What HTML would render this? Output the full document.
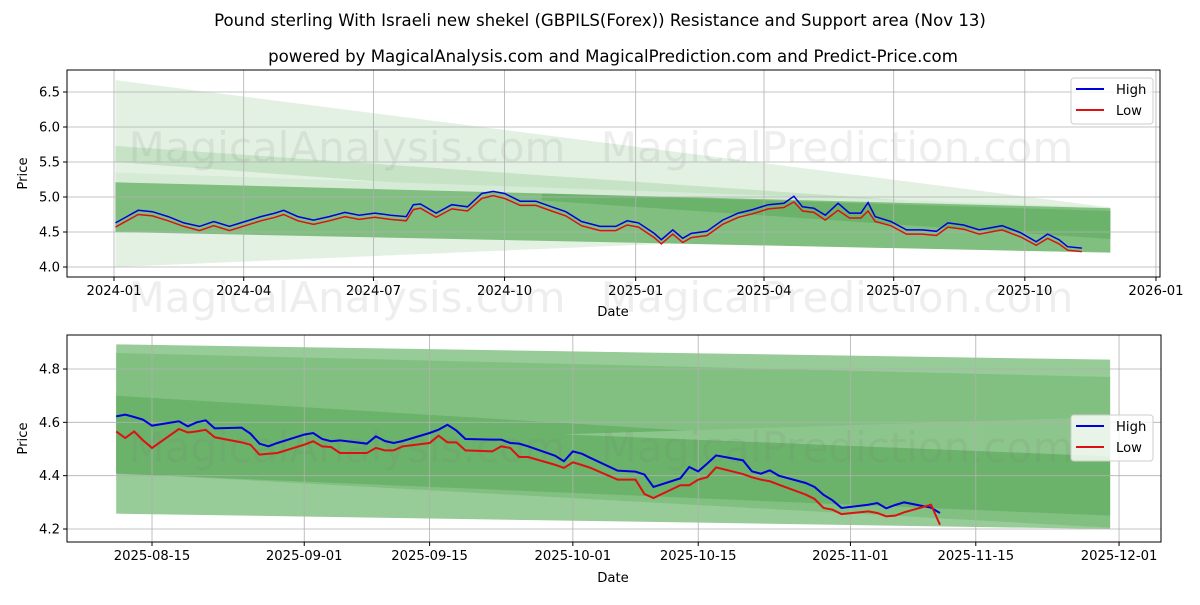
<!DOCTYPE html>
<html><head><meta charset="utf-8"><style>
body{margin:0;background:#fff;}
svg text{font-family:"DejaVu Sans","Liberation Sans",sans-serif;}
</style></head><body>
<svg id="c" width="1200" height="600" xmlns="http://www.w3.org/2000/svg">
<rect width="1200" height="600" fill="#fff"/>
<text x="600" y="26" text-anchor="middle" font-size="16.6">Pound sterling With Israeli new shekel (GBPILS(Forex)) Resistance and Support area (Nov 13)</text>
<text x="613" y="62" text-anchor="middle" font-size="16.6">powered by MagicalAnalysis.com and MagicalPrediction.com and Predict-Price.com</text>
<g id="top"></g>
<g id="bot"></g>
</svg>
<script>
// ---- top chart data ----
const topDays=[1,9,17,27,38,49,60,70,81,92,103,113,119,129,140,151,162,172,183,194,205,210,215,226,237,248,258,266,274,285,296,307,317,328,341,352,360,368,379,384,392,399,405,416,427,438,448,459,470,477,483,491,499,508,516,524,529,534,545,556,567,577,585,596,607,623,636,647,655,663,669,679];
const topHigh=[4.63,4.72,4.81,4.79,4.72,4.63,4.58,4.65,4.58,4.65,4.72,4.77,4.81,4.72,4.67,4.72,4.78,4.74,4.77,4.74,4.72,4.89,4.90,4.77,4.89,4.86,5.05,5.08,5.05,4.94,4.94,4.86,4.79,4.65,4.58,4.58,4.66,4.63,4.48,4.39,4.53,4.41,4.48,4.51,4.67,4.77,4.82,4.89,4.91,5.01,4.86,4.84,4.74,4.91,4.77,4.77,4.92,4.72,4.65,4.53,4.53,4.51,4.63,4.60,4.53,4.59,4.49,4.36,4.47,4.39,4.29,4.27];
const topLow=[4.57,4.66,4.75,4.73,4.66,4.58,4.52,4.59,4.52,4.59,4.66,4.71,4.75,4.66,4.61,4.66,4.72,4.68,4.71,4.68,4.66,4.82,4.84,4.71,4.83,4.80,4.98,5.02,4.98,4.88,4.88,4.80,4.73,4.59,4.52,4.52,4.60,4.57,4.42,4.33,4.47,4.35,4.42,4.45,4.61,4.71,4.76,4.83,4.85,4.93,4.80,4.78,4.67,4.81,4.70,4.70,4.80,4.65,4.59,4.47,4.47,4.45,4.57,4.54,4.47,4.53,4.43,4.31,4.41,4.33,4.24,4.22];
const topYTicks=[4.0,4.5,5.0,5.5,6.0,6.5];
const topYTickLabels=["4.0","4.5","5.0","5.5","6.0","6.5"];
const topXTickDays=[0,91,182,274,366,456,547,639,731];
const topXTickLabels=["2024-01","2024-04","2024-07","2024-10","2025-01","2025-04","2025-07","2025-10","2026-01"];
const topBandStartDay=1, topBandEndDay=699;
const topBandVeryLight=[6.67,4.85,4.00,4.60];
const topBandLight1=[5.73,4.75,5.50,4.45];
const topBandLight2=[5.35,4.85,5.21,4.80];
const topBandMain=[5.21,4.84,4.50,4.205];
const topBandDark=[5.05,4.80,4.95,4.40];

// ---- bottom chart data ----
const botStart="2025-08-11";
const botHigh=[4.6225,4.629,4.62,4.61,4.5875,4.604,4.585,4.60,4.6075,4.5775,4.58,4.5575,4.52,4.51,4.5225,4.554,4.56,4.5375,4.529,4.5325,4.52,4.5475,4.53,4.5225,4.53,4.56,4.5725,4.591,4.569,4.5375,4.535,4.535,4.5225,4.52,4.51,4.475,4.454,4.491,4.4825,4.466,4.419,4.417,4.415,4.404,4.3575,4.39,4.4325,4.416,4.445,4.476,4.4575,4.416,4.4075,4.42,4.40,4.3725,4.3575,4.328,4.3075,4.279,4.291,4.2975,4.2775,4.29,4.30,4.28,4.26];
const botLow=[4.566,4.541,4.566,4.5325,4.504,4.575,4.562,4.566,4.572,4.544,4.525,4.516,4.479,4.482,4.485,4.516,4.529,4.51,4.5075,4.485,4.485,4.504,4.495,4.495,4.51,4.5225,4.55,4.525,4.525,4.495,4.491,4.51,4.504,4.47,4.47,4.441,4.429,4.45,4.44,4.429,4.385,4.385,4.385,4.331,4.316,4.364,4.364,4.385,4.394,4.431,4.406,4.394,4.385,4.379,4.366,4.329,4.3125,4.279,4.2725,4.256,4.266,4.26,4.2475,4.25,4.2625,4.291,4.216];
const botYTicks=[4.2,4.4,4.6,4.8];
const botYTickLabels=["4.2","4.4","4.6","4.8"];
const botXTickDays=[4,21,35,51,65,82,96,112];
const botXTickLabels=["2025-08-15","2025-09-01","2025-09-15","2025-10-01","2025-10-15","2025-11-01","2025-11-15","2025-12-01"];
const botBandStartDay=0, botBandEndDay=111;
const botBandOuter=[4.8925,4.835,4.2575,4.20];
const botBandMedium=[4.86,4.77,4.41,4.205];
const botBandDark=[4.70,4.4725,4.4075,4.25];
const botBandStrip=[4.555,4.62,4.555,4.4725];

const NS="http://www.w3.org/2000/svg";
function mk(parent,tag,attrs){const e=document.createElementNS(NS,tag);for(const k in attrs)e.setAttribute(k,attrs[k]);parent.appendChild(e);return e;}

const tX=d=>114+d*1.4254, tY=v=>267-(v-4)*70;
const bX=d=>116.2+d*8.954, bY=v=>529-(v-4.2)*266.67;

function band(g,b,d0,d1,X,Y,fill,name,stripStartDay){
  const s0=stripStartDay!==undefined?stripStartDay:d0;
  const p=mk(g,'polygon',{points:`${X(s0)},${Y(b[0])} ${X(d1)},${Y(b[1])} ${X(d1)},${Y(b[3])} ${X(s0)},${Y(b[2])}`,fill:fill});
  
  
}
function wm(g,x,y,t){const e=mk(g,'text',{x:x,y:y,'text-anchor':'middle','font-size':'42',fill:'rgba(120,120,120,0.13)'});e.textContent=t;
  
  }

function panel(g,L,T,R,B,X,Y,yt,ytl,xt,xtl,days,hi,lo,bands,legY,xlabY,lw){
  const clip=mk(g,'clipPath',{id:g.id+'clip'});mk(clip,'rect',{x:L,y:T,width:R-L,height:B-T});
  const inner=mk(g,'g',{'clip-path':`url(#${g.id}clip)`});
  bands(inner);
  xt.forEach(d=>{const l=mk(inner,'line',{x1:X(d),x2:X(d),y1:T,y2:B,stroke:'#b0b0b0','stroke-width':0.8});
    
    });
  yt.forEach(v=>{const l=mk(inner,'line',{x1:L,x2:R,y1:Y(v),y2:Y(v),stroke:'#b0b0b0','stroke-width':0.8});
    
    });
  const hp=mk(inner,'polyline',{points:days.map((d,i)=>X(d)+','+Y(hi[i])).join(' '),fill:'none',stroke:'#0000dd','stroke-width':lw});
  
  
  const lp=mk(inner,'polyline',{points:days.map((d,i)=>X(d)+','+Y(lo[i])).join(' '),fill:'none',stroke:'#dd1111','stroke-width':lw});
  
  
  const fr=mk(g,'rect',{x:L,y:T,width:R-L,height:B-T,fill:'none',stroke:'#000','stroke-width':1});
  
  
  yt.forEach((v,i)=>{mk(g,'line',{x1:L-4,x2:L,y1:Y(v),y2:Y(v),stroke:'#000'});
    const t=mk(g,'text',{x:L-7,y:Y(v)+4.5,'text-anchor':'end','font-size':'13.2'});t.textContent=ytl[i];
    
    });
  xt.forEach((d,i)=>{mk(g,'line',{x1:X(d),x2:X(d),y1:B,y2:B+4,stroke:'#000'});
    const t=mk(g,'text',{x:X(d),y:B+18,'text-anchor':'middle','font-size':'13.2'});t.textContent=xtl[i];
    
    });
  const xl=mk(g,'text',{x:613,y:xlabY,'text-anchor':'middle','font-size':'13.2'});xl.textContent='Date';
  
  
  const cy=(T+B)/2;
  const yl=mk(g,'text',{x:27,y:cy,'text-anchor':'middle','font-size':'13.2',transform:`rotate(-90 27 ${cy})`});yl.textContent='Price';
  
  
  const lg=mk(g,'g',{});
  
  
  mk(lg,'rect',{x:1071,y:legY,width:82,height:46,rx:3,fill:'rgba(255,255,255,0.8)',stroke:'#ccc'});
  mk(lg,'line',{x1:1076,x2:1104,y1:legY+11,y2:legY+11,stroke:'#0000dd','stroke-width':2});
  const t1=mk(lg,'text',{x:1116,y:legY+16,'font-size':'13.2'});t1.textContent='High';
  
  
  mk(lg,'line',{x1:1076,x2:1104,y1:legY+32,y2:legY+32,stroke:'#dd1111','stroke-width':2});
  const t2=mk(lg,'text',{x:1116,y:legY+37,'font-size':'13.2'});t2.textContent='Low';
  
  
}

const gt=document.getElementById('top');
panel(gt,67,70,1160,277,tX,tY,topYTicks,topYTickLabels,topXTickDays,topXTickLabels,topDays,topHigh,topLow,inner=>{
  band(inner,topBandVeryLight,topBandStartDay,topBandEndDay,tX,tY,'#e3f1e3','band-outer');
  band(inner,topBandLight1,topBandStartDay,topBandEndDay,tX,tY,'#c6e3c6','band-resistance');
  band(inner,topBandLight2,topBandStartDay,topBandEndDay,tX,tY,'#d6ebd6','band-resistance-2');
  band(inner,topBandMain,topBandStartDay,topBandEndDay,tX,tY,'#80bf80','band-main');
  band(inner,topBandDark,topBandStartDay,topBandEndDay,tX,tY,'#6bb36b','band-dark',300);
  wm(inner,347,162,'MagicalAnalysis.com');wm(inner,837,162,'MagicalPrediction.com');
},78,316,1.5);
wm(document.getElementById('c'),347,312,'MagicalAnalysis.com');
wm(document.getElementById('c'),837,312,'MagicalPrediction.com');

const bDays=[];{let d=0;const s=new Date(botStart+"T00:00:00Z");while(bDays.length<botHigh.length){const dt=new Date(s.getTime()+d*86400000);const w=dt.getUTCDay();if(w!==0&&w!==6)bDays.push(d);d++;}}
const gb=document.getElementById('bot');
panel(gb,67,335,1161,542,bX,bY,botYTicks,botYTickLabels,botXTickDays,botXTickLabels,bDays,botHigh,botLow,inner=>{
  band(inner,botBandOuter,botBandStartDay,botBandEndDay,bX,bY,'#97cb97','band-outer');
  band(inner,botBandMedium,botBandStartDay,botBandEndDay,bX,bY,'#82c082','band-medium');
  band(inner,botBandDark,botBandStartDay,botBandEndDay,bX,bY,'#6bb36b','band-dark');
  band(inner,botBandStrip,botBandStartDay,botBandEndDay,bX,bY,'#8dc68d','band-strip',50);
  wm(inner,347,462,'MagicalAnalysis.com');wm(inner,837,462,'MagicalPrediction.com');
},415,582,2);
</script>
</body></html>
